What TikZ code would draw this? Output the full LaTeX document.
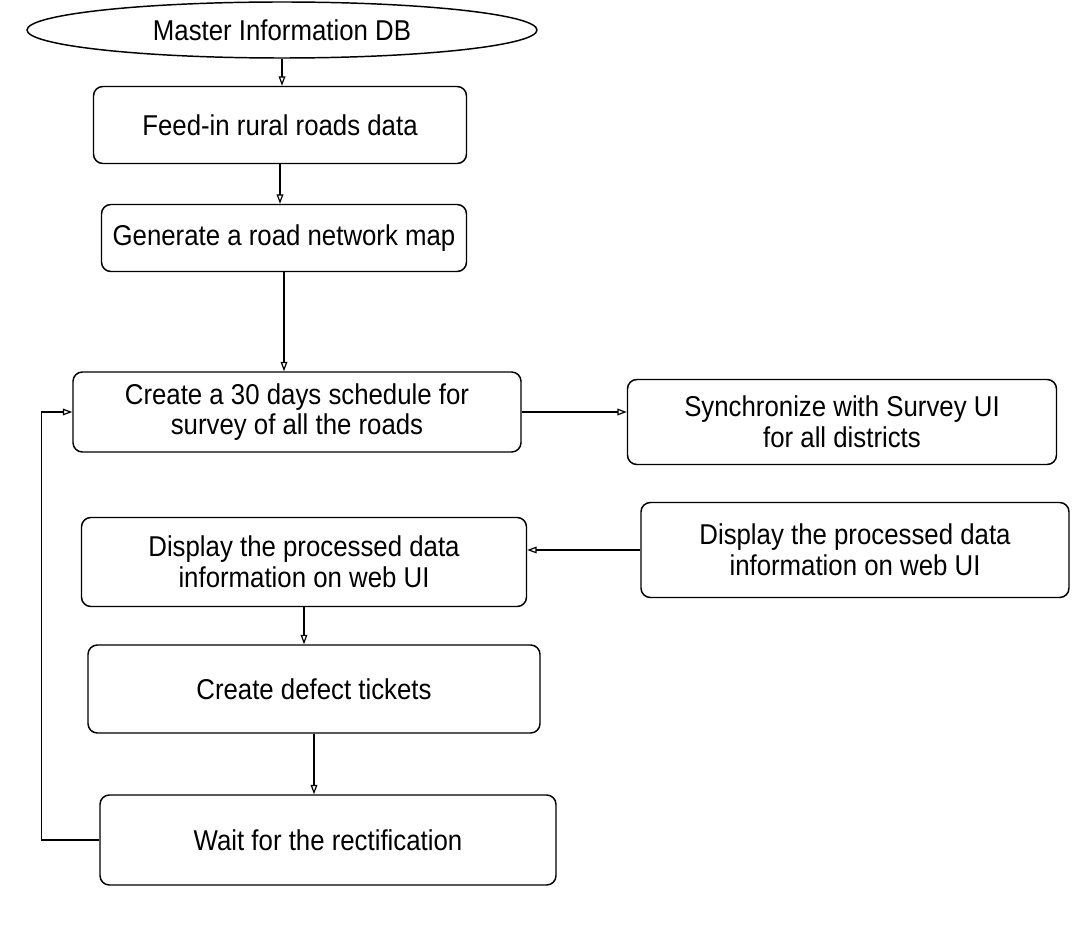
\documentclass[tikz,border=0pt]{standalone}
\usepackage{fontspec}
\setmainfont{Liberation Sans}[FakeStretch=0.9]
\usetikzlibrary{shapes.geometric,arrows.meta}
\begin{document}
\begin{tikzpicture}[x=0.75pt,y=-0.75pt,
  every node/.style={font=\fontsize{21.5}{23}\selectfont, align=center, inner sep=0pt},
  box/.style={draw, line width=1.1pt, rounded corners=7pt},
  arr/.style={draw, line width=0.9pt, -{Triangle[open,length=7pt,width=5pt]}}]
\useasboundingbox (0,0) rectangle (1072,945);
\node[draw, ellipse, line width=1.1pt, minimum width=510*0.75pt, minimum height=56*0.75pt] (db) at (282,30) {Master Information DB};
\node[box, minimum width=373*0.75pt, minimum height=77*0.75pt] (b1) at (280,125) {Feed-in rural roads data};
\node[box, minimum width=365*0.75pt, minimum height=67*0.75pt] (b2) at (284,238) {Generate a road network map};
\node[box, minimum width=448*0.75pt, minimum height=80*0.75pt] (b3) at (297,412) {Create a 30 days schedule for\\survey of all the roads};
\node[box, minimum width=429*0.75pt, minimum height=85*0.75pt] (b4) at (842,422) {Synchronize with Survey UI\\for all districts};
\node[box, minimum width=428*0.75pt, minimum height=95*0.75pt] (b5) at (855,550) {Display the processed data\\information on web UI};
\node[box, minimum width=445*0.75pt, minimum height=89*0.75pt] (b6) at (304,562) {Display the processed data\\information on web UI};
\node[box, minimum width=452*0.75pt, minimum height=88*0.75pt] (b7) at (314,689) {Create defect tickets};
\node[box, minimum width=456*0.75pt, minimum height=90*0.75pt] (b8) at (328,840) {Wait for the rectification};
\draw[arr] (db.south) -- (db.south |- b1.north);
\draw[arr] (b1.south) -- (b1.south |- b2.north);
\draw[arr] (b2.south) -- (b2.south |- b3.north);
\draw[arr] (b3.east) -- (b3.east -| b4.west);
\draw[arr] (b5.west) -- (b5.west -| b6.east);
\draw[arr] (b6.south) -- (b6.south |- b7.north);
\draw[arr] (b7.south) -- (b7.south |- b8.north);
\draw[arr] (b8.west) -- ++(-58,0) |- (b3.west);
\end{tikzpicture}
\end{document}
